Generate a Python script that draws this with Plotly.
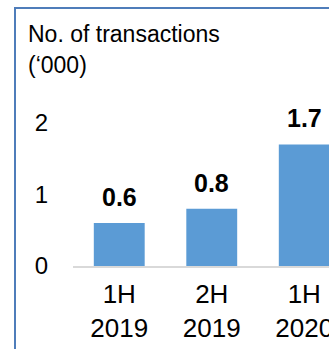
import plotly.graph_objects as go

# Half-year transaction counts (thousands)
periods = ["1H<br>2019", "2H<br>2019", "1H<br>2020"]
transactions = [0.6, 0.8, 1.7]
value_labels = ["0.6", "0.8", "1.7"]
y_ticks = [0, 1, 2]
title_lines = ["No. of transactions", "(\u2018000)"]

W, H = 329, 349
ML, MR, MT, MB = 73, 0, 70, 83
plot_w = W - ML - MR
plot_h = H - MT - MB
unit_px = 71.5
cat_px = 92.5

FONT = "Liberation Sans, Arial, sans-serif"
BAR = "#5b9bd5"
FRAME = "#4f7dba"


def px_x(px):
    return (px - ML) / plot_w


def px_y(py):
    return (H - MB - py) / plot_h


fig = go.Figure(
    go.Bar(
        x=list(range(len(periods))),
        y=transactions,
        marker=dict(color=BAR, line=dict(width=0)),
        width=0.55,
        hoverinfo="skip",
    )
)

annotations = []
for i, (v, lab) in enumerate(zip(transactions, value_labels)):
    annotations.append(dict(
        x=i, y=v, xref="x", yref="y", text=f"<b>{lab}</b>", showarrow=False,
        yanchor="bottom", yshift=10, font=dict(family=FONT, size=25, color="#000000"),
    ))
for line, base_py in zip(title_lines, [43, 74]):
    annotations.append(dict(
        x=px_x(26), y=px_y(base_py + 6), xref="paper", yref="paper", text=line,
        showarrow=False, xanchor="left", yanchor="bottom",
        font=dict(family=FONT, size=23, color="#000000"),
    ))

shapes = [
    dict(type="line", xref="paper", yref="paper", x0=px_x(15), x1=px_x(15),
         y0=px_y(7), y1=px_y(H + 5), line=dict(color=FRAME, width=2)),
    dict(type="line", xref="paper", yref="paper", x0=px_x(14), x1=px_x(W + 5),
         y0=px_y(8), y1=px_y(8), line=dict(color=FRAME, width=2)),
]

fig.update_layout(
    width=W, height=H,
    margin=dict(l=ML, r=MR, t=MT, b=MB, pad=0, autoexpand=False),
    paper_bgcolor="#ffffff", plot_bgcolor="#ffffff",
    showlegend=False,
    font=dict(family=FONT, color="#000000"),
    annotations=annotations,
    shapes=shapes,
    xaxis=dict(
        range=[-0.5, -0.5 + plot_w / cat_px],
        tickvals=list(range(len(periods))), ticktext=periods,
        tickfont=dict(family=FONT, size=26, color="#000000"),
        showline=True, linecolor="#d9d9d9", linewidth=2,
        showgrid=False, zeroline=False, ticks="", ticklabelstandoff=4,
        ticklabeloverflow="allow", automargin=False, fixedrange=True,
    ),
    yaxis=dict(
        range=[0, plot_h / unit_px],
        tickvals=y_ticks,
        tickfont=dict(family=FONT, size=24, color="#000000"),
        showgrid=False, zeroline=False, showline=False, ticks="",
        ticklabelstandoff=24, automargin=False, fixedrange=True,
    ),
)

fig.write_html("out.html")
